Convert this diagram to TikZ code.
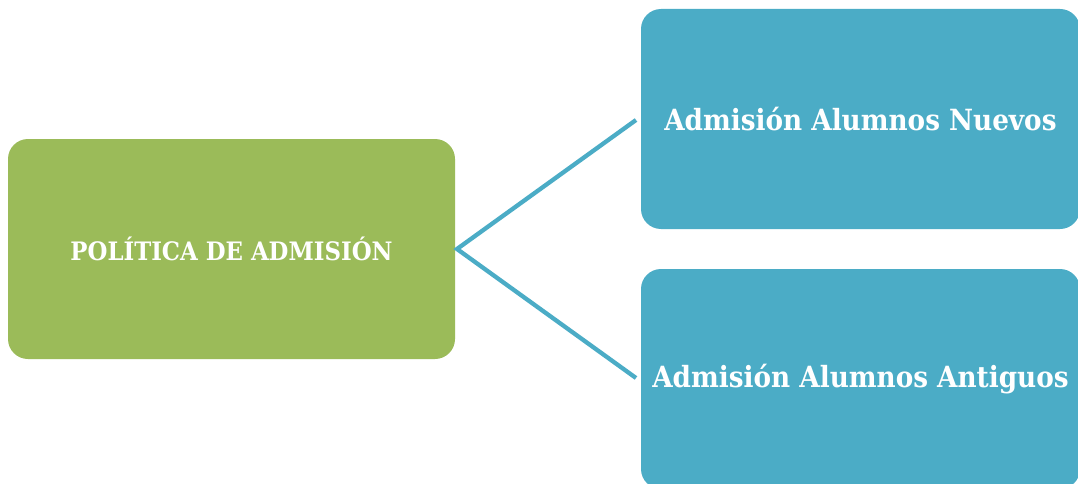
\documentclass[tikz,border=0pt]{standalone}
\usepackage{fontspec}
\setmainfont{DejaVu Serif Condensed}
\definecolor{boxgreen}{HTML}{9BBB59}
\definecolor{boxblue}{HTML}{4BACC6}
\begin{document}
\begin{tikzpicture}[x=1pt,y=-1pt,
  card/.style={rectangle, rounded corners=20pt, draw=none, text=white,
    font=\bfseries, inner sep=0pt},
  link/.style={draw=boxblue, line width=4.3pt}]
\useasboundingbox (0,0) rectangle (1078,484);
\clip (0,0) rectangle (1078,484);
\node[card, fill=boxgreen, minimum width=447pt, minimum height=220pt,
  font=\fontsize{25.4}{30}\selectfont\bfseries] (pol) at (231.5,249) {POLÍTICA DE ADMISIÓN};
\node[card, fill=boxblue, minimum width=439pt, minimum height=220pt,
  font=\fontsize{29.2}{34}\selectfont\bfseries] (nue) at (860.5,119) {Admisión Alumnos Nuevos};
\node[card, fill=boxblue, minimum width=439pt, minimum height=220pt,
  font=\fontsize{29.2}{34}\selectfont\bfseries] (ant) at (860.5,379) {Admisión Alumnos Antiguos};
\coordinate (pe) at (457,249);
\coordinate (ne) at (636,120);
\coordinate (ae) at (636,378);
\draw[link] (ne) -- (pe) -- (ae);
\end{tikzpicture}
\end{document}
